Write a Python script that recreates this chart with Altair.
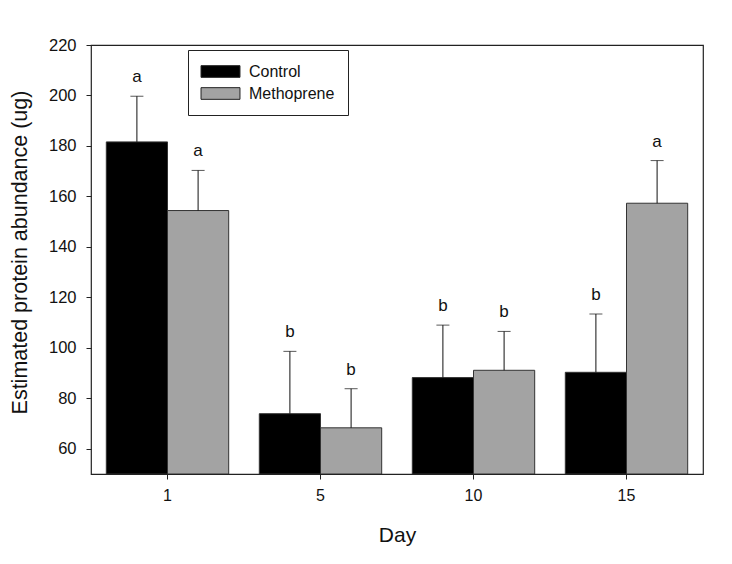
import altair as alt
import pandas as pd

days = ["1", "5", "10", "15"]
groups = ["Control", "Methoprene"]
control_mean = [181.6, 73.9, 88.2, 90.3]
control_upper = [199.7, 98.6, 109.0, 113.4]
control_letter = ["a", "b", "b", "b"]
metho_mean = [154.4, 68.3, 91.1, 157.3]
metho_upper = [170.3, 83.8, 106.5, 174.2]
metho_letter = ["a", "b", "b", "a"]
y_ticks = [60, 80, 100, 120, 140, 160, 180, 200, 220]
colors = ["#000000", "#a3a3a3"]

rows = []
for g, means, ups, lets in [
    ("Control", control_mean, control_upper, control_letter),
    ("Methoprene", metho_mean, metho_upper, metho_letter),
]:
    for d, m, u, l in zip(days, means, ups, lets):
        rows.append({"Day": d, "Group": g, "mean": m, "upper": u, "letter": l})
df = pd.DataFrame(rows)

FONT = "Liberation Sans"

x_enc = alt.X(
    "Day:N",
    sort=days,
    scale=alt.Scale(paddingInner=0.2, paddingOuter=0.1),
    axis=alt.Axis(
        title="Day",
        labelAngle=0,
        labelFontSize=16,
        labelFont=FONT,
        labelColor="#111",
        labelPadding=8,
        tickSize=5,
        tickColor="#222",
        domain=False,
        titleFontSize=21,
        titleFont=FONT,
        titleFontWeight="normal",
        titleColor="#111",
        titlePadding=21,
    ),
)
xoff = alt.XOffset("Group:N", sort=groups, scale=alt.Scale(paddingInner=0, paddingOuter=0))
y_scale = alt.Scale(domain=[50, 220], nice=False, zero=False)

base = alt.Chart(df)

bars = base.mark_bar(stroke="#333333", strokeWidth=1, clip=True).encode(
    x=x_enc,
    xOffset=xoff,
    y=alt.Y(
        "mean:Q",
        scale=y_scale,
        axis=alt.Axis(
            title="Estimated protein abundance (ug)",
            values=y_ticks,
            labelFontSize=16.5,
            labelFont=FONT,
            labelColor="#111",
            labelPadding=10,
            tickSize=5,
            tickColor="#222",
            domain=False,
            grid=False,
            titleFontSize=21.5,
            titleFont=FONT,
            titleFontWeight="normal",
            titleColor="#111",
            titlePadding=17,
            titleY=207,
        ),
    ),
    y2=alt.datum(50),
    color=alt.Color(
        "Group:N",
        sort=groups,
        scale=alt.Scale(domain=groups, range=colors),
        legend=alt.Legend(
            title=None,
            orient="none",
            legendX=97,
            legendY=5,
            padding=13,
            strokeColor="#222",
            fillColor="white",
            labelFontSize=16,
            labelFont=FONT,
            labelColor="#111",
            symbolType="M-1.06,-0.73H3.81V0.73H-1.06Z",
            symbolSize=256,
            symbolStrokeColor="#222",
            symbolStrokeWidth=1,
            symbolOpacity=1,
            labelOffset=31,
            rowPadding=5,
        ),
    ),
)

err = base.mark_rule(color="#111", strokeWidth=1).encode(
    x=alt.X("Day:N", sort=days),
    xOffset=xoff,
    y=alt.Y("mean:Q", scale=y_scale),
    y2="upper:Q",
)

caps = base.mark_tick(color="#111", thickness=1, size=13, orient="horizontal").encode(
    x=alt.X("Day:N", sort=days),
    xOffset=xoff,
    y=alt.Y("upper:Q", scale=y_scale),
)

letters = base.mark_text(
    fontSize=17, font=FONT, color="#111", baseline="alphabetic", dy=-14
).encode(
    x=alt.X("Day:N", sort=days),
    xOffset=xoff,
    y=alt.Y("upper:Q", scale=y_scale),
    text="letter:N",
)

chart = (
    alt.layer(bars, err, caps, letters)
    .properties(
        width=612,
        height=429,
        autosize=alt.AutoSizeParams(type="none"),
        padding={"left": 83, "top": 37, "right": 21, "bottom": 82},
        background="white",
    )
    .configure_view(stroke="#222", strokeWidth=1.2)
)

chart.save("out.html", embed_options={"renderer": "svg", "actions": False})
